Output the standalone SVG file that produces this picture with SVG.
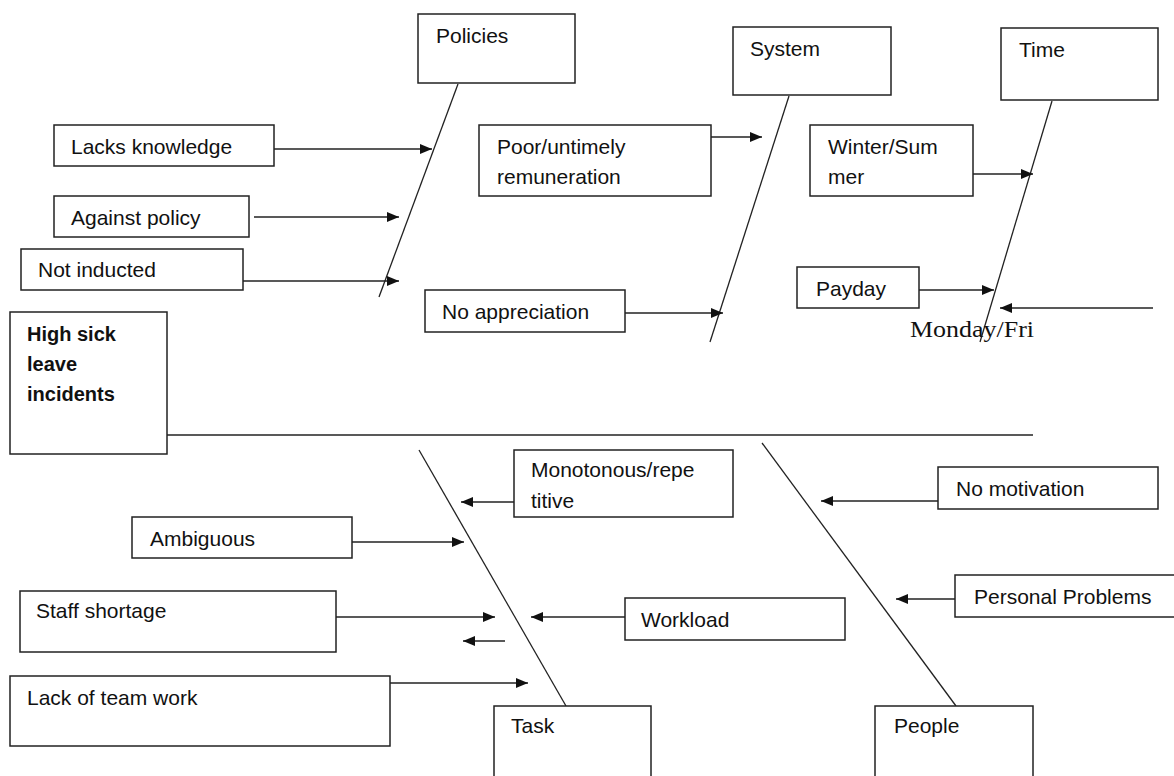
<svg xmlns="http://www.w3.org/2000/svg" width="1174" height="776" viewBox="0 0 1174 776">
<defs>
<style>
.box{fill:#fff;stroke:#222;stroke-width:1.5}
.t{font-family:"Liberation Sans",Arial,sans-serif;font-size:21px;fill:#111}
.b{font-weight:bold;font-size:20px}
.ln{stroke:#222;stroke-width:1.3;fill:none}
.ar{stroke:#222;stroke-width:1.3;fill:none;marker-end:url(#ah)}
.serif{font-family:"Liberation Serif","Times New Roman",serif;font-size:23px;fill:#111}
</style>
<marker id="ah" markerUnits="userSpaceOnUse" markerWidth="12" markerHeight="10" refX="12" refY="5" orient="auto">
<path d="M0,0 L12,5 L0,10 z" fill="#111"/>
</marker>
</defs>
<rect width="1174" height="776" fill="#fff"/>
<g id="connectors">
<line class="ln" x1="167" y1="435" x2="1033" y2="435"/>
<line class="ln" x1="458" y1="84" x2="379" y2="297"/>
<line class="ln" x1="789" y1="96" x2="710" y2="342"/>
<line class="ln" x1="1052" y1="101" x2="980" y2="342"/>
<line class="ln" x1="419" y1="450" x2="566" y2="706"/>
<line class="ln" x1="762" y1="443" x2="956" y2="706"/>
<line class="ar" x1="274" y1="149" x2="432" y2="149"/>
<line class="ar" x1="254" y1="217" x2="399" y2="217"/>
<line class="ar" x1="243" y1="281" x2="399" y2="281"/>
<line class="ar" x1="711" y1="137" x2="762" y2="137"/>
<line class="ar" x1="625" y1="313" x2="723" y2="313"/>
<line class="ar" x1="973" y1="174" x2="1033" y2="174"/>
<line class="ar" x1="919" y1="290" x2="994" y2="290"/>
<line class="ar" x1="1153" y1="308" x2="1000" y2="308"/>
<line class="ar" x1="514" y1="502" x2="461" y2="502"/>
<line class="ar" x1="352" y1="542" x2="464" y2="542"/>
<line class="ar" x1="336" y1="617" x2="495" y2="617"/>
<line class="ar" x1="505" y1="641" x2="463" y2="641"/>
<line class="ar" x1="625" y1="617" x2="531" y2="617"/>
<line class="ar" x1="390" y1="683" x2="528" y2="683"/>
<line class="ar" x1="938" y1="501" x2="821" y2="501"/>
<line class="ar" x1="955" y1="599" x2="896" y2="599"/>
</g>
<g id="policies"><rect class="box" x="418" y="14" width="157" height="69"/><text class="t" x="436" y="43">Policies</text></g>
<g id="system"><rect class="box" x="733" y="27" width="158" height="68"/><text class="t" x="750" y="56">System</text></g>
<g id="time"><rect class="box" x="1001" y="28" width="157" height="72"/><text class="t" x="1019" y="57">Time</text></g>
<g id="lacks-knowledge"><rect class="box" x="54" y="125" width="220" height="41"/><text class="t" x="71" y="154">Lacks knowledge</text></g>
<g id="against-policy"><rect class="box" x="54" y="196" width="195" height="41"/><text class="t" x="71" y="225">Against policy</text></g>
<g id="not-inducted"><rect class="box" x="21" y="249" width="222" height="41"/><text class="t" x="38" y="277">Not inducted</text></g>
<g id="poor-remuneration"><rect class="box" x="479" y="125" width="232" height="71"/><text class="t" x="497" y="154">Poor/untimely</text><text class="t" x="497" y="184">remuneration</text></g>
<g id="no-appreciation"><rect class="box" x="425" y="290" width="200" height="42"/><text class="t" x="442" y="319">No appreciation</text></g>
<g id="winter-summer"><rect class="box" x="810" y="125" width="163" height="71"/><text class="t" x="828" y="154">Winter/Sum</text><text class="t" x="828" y="184">mer</text></g>
<g id="payday"><rect class="box" x="797" y="267" width="122" height="41"/><text class="t" x="816" y="296">Payday</text></g>
<g id="monday-fri"><text class="serif" x="910" y="337" textLength="124" lengthAdjust="spacingAndGlyphs">Monday/Fri</text></g>
<g id="high-sick-leave"><rect class="box" x="10" y="312" width="157" height="142"/><text class="t b" x="27" y="341">High sick</text><text class="t b" x="27" y="371">leave</text><text class="t b" x="27" y="401">incidents</text></g>
<g id="monotonous"><rect class="box" x="514" y="450" width="219" height="67"/><text class="t" x="531" y="477">Monotonous/repe</text><text class="t" x="531" y="508">titive</text></g>
<g id="ambiguous"><rect class="box" x="132" y="517" width="220" height="41"/><text class="t" x="150" y="546">Ambiguous</text></g>
<g id="staff-shortage"><rect class="box" x="20" y="591" width="316" height="61"/><text class="t" x="36" y="618">Staff shortage</text></g>
<g id="workload"><rect class="box" x="625" y="598" width="220" height="42"/><text class="t" x="641" y="627">Workload</text></g>
<g id="lack-of-team-work"><rect class="box" x="10" y="676" width="380" height="70"/><text class="t" x="27" y="705">Lack of team work</text></g>
<g id="task"><rect class="box" x="494" y="706" width="157" height="80"/><text class="t" x="511" y="733">Task</text></g>
<g id="no-motivation"><rect class="box" x="938" y="467" width="220" height="42"/><text class="t" x="956" y="496">No motivation</text></g>
<g id="personal-problems"><rect class="box" x="955" y="575" width="230" height="42"/><text class="t" x="974" y="604">Personal Problems</text></g>
<g id="people"><rect class="box" x="875" y="706" width="158" height="80"/><text class="t" x="894" y="733">People</text></g>
</svg>
